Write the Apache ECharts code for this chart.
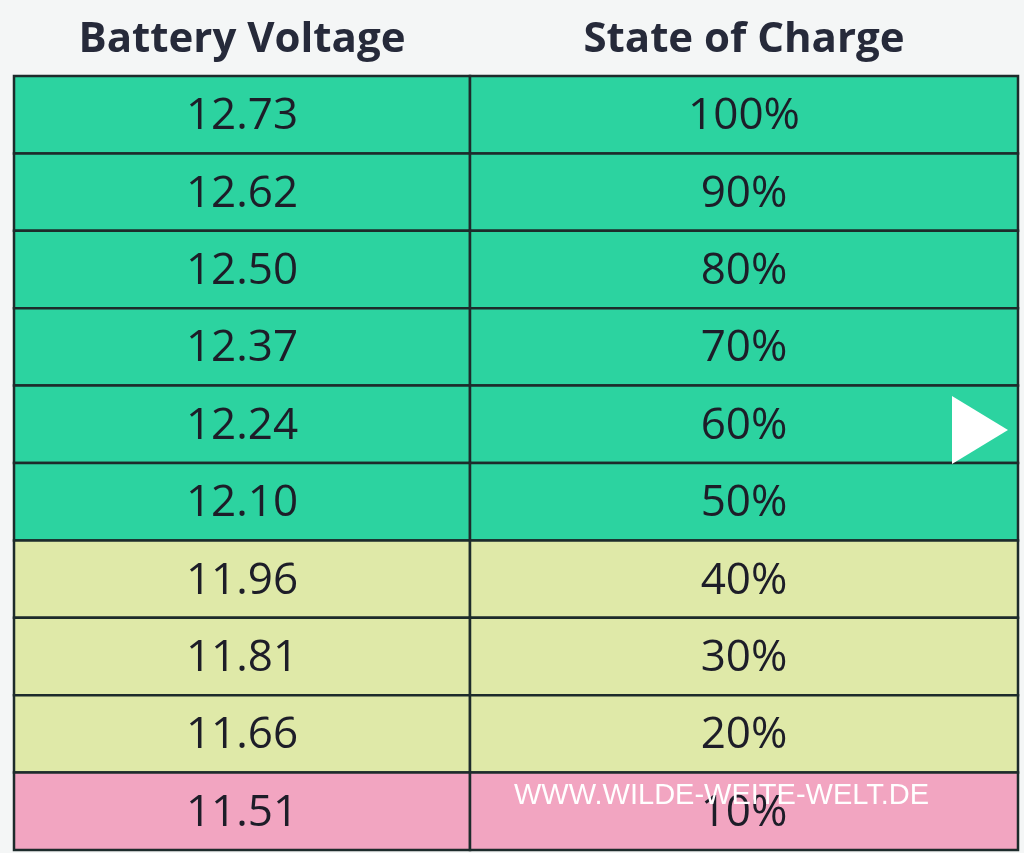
<!DOCTYPE html>
<html><head><meta charset="utf-8">
<script src="https://cdn.jsdelivr.net/npm/echarts@6/dist/echarts.min.js"></script>
<style>html,body{margin:0;background:#f4f6f6}#c{width:1024px;height:853px}</style>
</head><body><div id="c"></div>
<script>
const columns = ['Battery Voltage', 'State of Charge'];
const colEdges = [0, 456, 1004];
const voltages = ['12.73','12.62','12.50','12.37','12.24','12.10','11.96','11.81','11.66','11.51'];
const charges = ['100%','90%','80%','70%','60%','50%','40%','30%','20%','10%'];
const bands = ['green','green','green','green','green','green','yellow','yellow','yellow','red'];
const colors = {green:'#2cd3a0', yellow:'#dfe9a8', red:'#f2a5c1'};
const data = [];
voltages.forEach((v,i)=>{data.push([0,i,v,bands[i]]);data.push([1,i,charges[i],bands[i]]);});
const headers = columns.map((h,j)=>[j,h]);
const chart = echarts.init(document.getElementById('c'));
chart.setOption({
  backgroundColor:'#f4f6f6',
  grid:{left:14,right:6,top:76,bottom:3},
  xAxis:{type:'value',min:0,max:1004,show:false},
  yAxis:{type:'value',min:0,max:voltages.length,inverse:true,show:false},
  series:[{type:'custom',data:data,z:2,
    renderItem:function(params,api){
      const d=data[params.dataIndex];
      const p0=api.coord([colEdges[d[0]],d[1]]);
      const p1=api.coord([colEdges[d[0]+1],d[1]+1]);
      return {type:'group',children:[
        {type:'rect',shape:{x:p0[0],y:p0[1],width:p1[0]-p0[0],height:p1[1]-p0[1]},
         style:{fill:colors[d[3]],stroke:'#1d2b2b',lineWidth:2.5}},
        {type:'text',style:{x:(p0[0]+p1[0])/2,y:(p0[1]+p1[1])/2+2,text:d[2],align:'center',verticalAlign:'middle',
         fontSize:44,fontFamily:'Open Sans',fill:'#1d1d28'}}
      ]};
    }},
   {type:'custom',data:headers,z:2,
    renderItem:function(params,api){
      const d=headers[params.dataIndex];
      const p0=api.coord([colEdges[d[0]],0]);
      const p1=api.coord([colEdges[d[0]+1],0]);
      return {type:'text',style:{x:(p0[0]+p1[0])/2,y:p0[1]-36,text:d[1],align:'center',verticalAlign:'middle',
        fontSize:42,fontWeight:'bold',fontFamily:'Open Sans',fill:'#262a3a'}};
    }}],
  graphic:[
    {type:'text',z:100,left:514,top:781,style:{text:'WWW.WILDE-WEITE-WELT.DE',fontSize:29,fontFamily:'Liberation Sans',fill:'#ffffff'}},
    {type:'polygon',z:100,shape:{points:[[952,396],[952,464],[1008,430]]},style:{fill:'#ffffff'}}
  ]
});
</script></body></html>
